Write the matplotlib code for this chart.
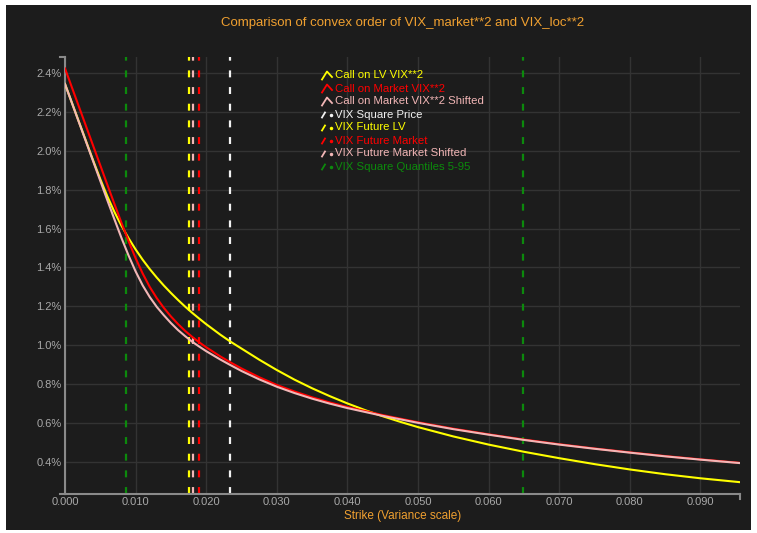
import numpy as np
import matplotlib.pyplot as plt
from matplotlib.lines import Line2D
from matplotlib.patches import Rectangle
from matplotlib.ticker import PercentFormatter, FormatStrFormatter, MultipleLocator

plt.rcParams.update({
    "font.family": ["Liberation Sans", "DejaVu Sans"],
    "lines.scale_dashes": False,
})

W, H = 757, 533
BG = "#1c1c1c"
GRID = "#333333"
AXIS = "#8a8a8a"
TICK = "#a8a8a8"
ORANGE = "#f0a030"

YELLOW = "#ffff00"
RED = "#ff0000"
PINK = "#f2b6b6"
WHITE = "#f2f2f2"
GREEN = "#0c8a0c"

# call prices (in %) against strike, local vol model
strike_lv = [0.0, 0.004, 0.005, 0.006, 0.007, 0.008, 0.009, 0.010, 0.011,
             0.012, 0.013, 0.014, 0.015, 0.016, 0.017, 0.018, 0.019, 0.020,
             0.022, 0.0234, 0.025, 0.0275, 0.030, 0.0325, 0.035, 0.0375,
             0.040, 0.0425, 0.045, 0.0475, 0.050, 0.055, 0.060, 0.065,
             0.070, 0.075, 0.080, 0.085, 0.090, 0.0956]
call_lv = [2.345, 1.950, 1.855, 1.766, 1.686, 1.615, 1.551, 1.493, 1.440,
           1.392, 1.348, 1.307, 1.269, 1.233, 1.199, 1.167, 1.137, 1.108,
           1.054, 1.019, 0.9825, 0.9255, 0.872, 0.8225, 0.778, 0.7375,
           0.700, 0.6655, 0.634, 0.605, 0.578, 0.530, 0.488, 0.451,
           0.418, 0.3875, 0.360, 0.3355, 0.3145, 0.2945]

# call prices (in %) against strike, market and shifted market
strike_mkt = [0.0, 0.006, 0.007, 0.008, 0.009, 0.010, 0.011, 0.012, 0.013,
              0.014, 0.015, 0.016, 0.017, 0.018, 0.019, 0.020, 0.022,
              0.0234, 0.025, 0.0275, 0.030, 0.0325, 0.035, 0.0375, 0.040,
              0.045, 0.050, 0.055, 0.060, 0.065, 0.070, 0.075, 0.080,
              0.085, 0.090, 0.0956]
call_mkt = [2.425, 1.826, 1.727, 1.630, 1.536, 1.448, 1.369, 1.300, 1.242,
            1.192, 1.148, 1.109, 1.074, 1.043, 1.015, 0.989, 0.942,
            0.912, 0.880, 0.835, 0.795, 0.7615, 0.7315, 0.705, 0.6815,
            0.640, 0.603, 0.570, 0.541, 0.514, 0.490, 0.468, 0.448,
            0.429, 0.412, 0.394]
call_mkt_shifted = [2.345, 1.746, 1.648, 1.552, 1.462, 1.380, 1.308, 1.248, 1.197,
                    1.154, 1.114, 1.078, 1.047, 1.018, 0.993, 0.969, 0.926,
                    0.898, 0.867, 0.824, 0.786, 0.7535, 0.7245, 0.699, 0.676,
                    0.636, 0.600, 0.5675, 0.539, 0.512, 0.488, 0.4665, 0.4465,
                    0.4275, 0.4105, 0.3927]

# reference strikes
vix_square_price = 0.02343
vix_future_lv = 0.01752
vix_future_mkt = 0.01898
vix_future_mkt_shifted = 0.01809
vix_square_quantiles = [0.00858, 0.0649]

fig = plt.figure(figsize=(W / 100, H / 100), dpi=100, facecolor="white")
fig.patches.append(Rectangle((6 / W, 3 / H), 745 / W, 525 / H,
                             transform=fig.transFigure, facecolor=BG,
                             edgecolor="none", zorder=-10))

ax_l, ax_r, ax_t, ax_b = 65, 740, 56.7, 494
ax = fig.add_axes([ax_l / W, 1 - ax_b / H, (ax_r - ax_l) / W, (ax_b - ax_t) / H])
ax.set_facecolor(BG)

ax.plot(strike_lv, call_lv, color=YELLOW, lw=1.5, zorder=3)
ax.plot(strike_mkt, call_mkt, color=RED, lw=1.5, zorder=4)
ax.plot(strike_mkt, call_mkt_shifted, color=PINK, lw=1.5, zorder=5)

dash = (0, (5, 7))
ax.axvline(vix_square_price, color=WHITE, lw=1.6, ls=dash, zorder=2)
ax.axvline(vix_future_lv, color=YELLOW, lw=1.6, ls=dash, zorder=2)
ax.axvline(vix_future_mkt, color=RED, lw=1.6, ls=dash, zorder=2)
ax.axvline(vix_future_mkt_shifted, color=PINK, lw=1.6, ls=dash, zorder=2)
for q in vix_square_quantiles:
    ax.axvline(q, color=GREEN, lw=1.6, ls=dash, zorder=2)

ax.set_xlim(0, 0.0956)
ax.set_ylim(0.2336, 2.4855)
ax.xaxis.set_major_locator(MultipleLocator(0.01))
ax.xaxis.set_major_formatter(FormatStrFormatter("%.3f"))
ax.yaxis.set_major_formatter(PercentFormatter(xmax=100, decimals=1))
ax.set_yticks(np.arange(0.4, 2.41, 0.2))
ax.grid(True, color=GRID, lw=1.0)
ax.set_axisbelow(True)
ax.tick_params(length=0, labelsize=8, colors=TICK, pad=2.5)

for side in ("top", "right"):
    ax.spines[side].set_visible(False)
for side in ("left", "bottom"):
    ax.spines[side].set_color(AXIS)
    ax.spines[side].set_linewidth(1.5)

# small end caps on the axis lines
caps = [((60, 65), (ax_t, ax_t)), ((60, 65), (ax_b, ax_b)),
        ((ax_r, ax_r), (ax_b, ax_b + 5))]
for xs, ys in caps:
    fig.add_artist(Line2D([x / W for x in xs], [1 - y / H for y in ys],
                          color=AXIS, lw=1.5, transform=fig.transFigure))

fig.text(402.5 / W, 1 - 23 / H,
         "Comparison of convex order of VIX_market**2 and VIX_loc**2",
         color=ORANGE, fontsize=9.5, ha="center", va="center")
fig.text(402.5 / W, 1 - 516 / H, "Strike (Variance scale)",
         color=ORANGE, fontsize=8.5, ha="center", va="center")

# legend
legend_labels = ["Call on LV VIX**2", "Call on Market VIX**2",
                 "Call on Market VIX**2 Shifted", "VIX Square Price",
                 "VIX Future LV", "VIX Future Market",
                 "VIX Future Market Shifted", "VIX Square Quantiles 5-95"]
legend_colors = [YELLOW, RED, PINK, WHITE, YELLOW, RED, PINK, GREEN]
legend_kinds = ["line"] * 3 + ["dash"] * 5

for i, (lab, col, kind) in enumerate(zip(legend_labels, legend_colors, legend_kinds)):
    yc = 75.5 + i * 13.0
    if kind == "line":
        xs, ys = [322, 327, 332], [yc + 4, yc - 4, yc + 1.5]
        fig.add_artist(Line2D([x / W for x in xs], [1 - y / H for y in ys],
                              color=col, lw=1.3, transform=fig.transFigure))
    else:
        fig.add_artist(Line2D([322 / W, 325 / W], [1 - (yc + 3) / H, 1 - (yc - 2) / H],
                              color=col, lw=1.3, transform=fig.transFigure))
        fig.add_artist(Line2D([330.5 / W], [1 - yc / H], marker="o", ms=1.5,
                              color=col, lw=0, transform=fig.transFigure))
    fig.text(335 / W, 1 - yc / H, lab, color=col, fontsize=8.2,
             ha="left", va="center")

fig.savefig("out.png", dpi=100, facecolor="white")
